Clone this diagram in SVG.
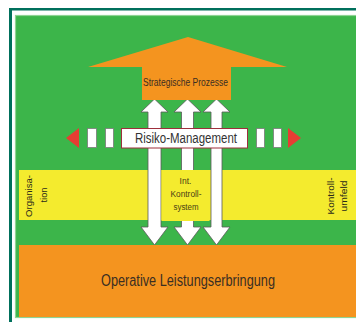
<svg xmlns="http://www.w3.org/2000/svg" width="356" height="322" viewBox="0 0 356 322">
<style>
.t{font-family:"Liberation Sans Narrow","Liberation Sans",Arial,sans-serif;fill:#3a2e22}
.wa{fill:#ffffff;stroke:#5a5a5a;stroke-width:0.8}
.sq{fill:#ffffff;stroke:#7a7a7a;stroke-width:0.8}
.red{fill:#e63d33}
</style>
<rect width="356" height="322" fill="#ffffff"/>
<g id="frame">
<rect x="9" y="8" width="347" height="2.5" fill="#00705c"/>
<rect x="9" y="8" width="3" height="314" fill="#00705c"/>
<rect x="15.5" y="15.5" width="345" height="302" fill="#3cb54a" stroke="#8fd394" stroke-width="1.2"/>
</g>
<g id="yellow-band">
<rect x="19" y="170" width="337" height="50" fill="#f4eb2e"/>
</g>
<g id="connectors">
<polygon class="wa" points="154.5,99 168,112 161,112 161,227 168,227 154.5,245 141,227 148,227 148,112 141,112"/>
<polygon class="wa" points="187.5,99 201,112 193.5,112 193.5,227 201,227 187.5,245 174,227 181.5,227 181.5,112 174,112"/>
<polygon class="wa" points="216.5,99 230,112 222,112 222,227 230,227 216.5,245 203,227 211,227 211,112 203,112"/>
</g>
<g id="int-kontrollsystem">
<rect x="161.5" y="170" width="48" height="51" fill="#f4eb2e"/>
<text class="t" x="185.5" y="184" font-size="8.5" text-anchor="middle" style="fill:#4a4015">Int.</text>
<text class="t" x="186" y="197" font-size="8.5" text-anchor="middle" textLength="31" lengthAdjust="spacingAndGlyphs" style="fill:#4a4015">Kontroll-</text>
<text class="t" x="186" y="210" font-size="8.5" text-anchor="middle" textLength="25" lengthAdjust="spacingAndGlyphs" style="fill:#4a4015">system</text>
</g>
<g id="strategische-prozesse">
<polygon points="188,37 287,67 231,67 231,100 142,100 142,67 88,67" fill="#f4941f"/>
<text class="t" x="185.5" y="86" font-size="11" text-anchor="middle" textLength="85" lengthAdjust="spacingAndGlyphs">Strategische Prozesse</text>
</g>
<g id="operative-leistungserbringung">
<rect x="19" y="245" width="337" height="72" fill="#f4941f"/>
<text class="t" x="188" y="286" font-size="16" text-anchor="middle" textLength="174" lengthAdjust="spacingAndGlyphs">Operative Leistungserbringung</text>
</g>
<g id="risiko-management">
<polygon class="red" points="66,138 79,128 79,148"/>
<polygon class="red" points="301,138 288,128 288,148"/>
<rect class="sq" x="87.5" y="128.5" width="9" height="19"/>
<rect class="sq" x="105.5" y="128.5" width="8" height="19"/>
<rect class="sq" x="256.5" y="128.5" width="8" height="19"/>
<rect class="sq" x="273.5" y="128.5" width="8" height="19"/>
<rect x="121.5" y="128.5" width="126" height="19.5" fill="#ffffff" stroke="#9e2f3c" stroke-width="1"/>
<text class="t" x="186" y="143" font-size="14" text-anchor="middle" textLength="102" lengthAdjust="spacingAndGlyphs" style="fill:#333333">Risiko-Management</text>
</g>
<g id="organisation">
<text class="t" transform="translate(32,196) rotate(-90)" font-size="9" text-anchor="middle" textLength="42" lengthAdjust="spacingAndGlyphs" style="fill:#2a2a1a">Organisa-</text>
<text class="t" transform="translate(47,195) rotate(-90)" font-size="9" text-anchor="middle" textLength="15" lengthAdjust="spacingAndGlyphs" style="fill:#2a2a1a">tion</text>
</g>
<g id="kontrollumfeld">
<text class="t" transform="translate(334,196) rotate(-90)" font-size="9" text-anchor="middle" textLength="37" lengthAdjust="spacingAndGlyphs" style="fill:#2a2a1a">Kontroll-</text>
<text class="t" transform="translate(347,196) rotate(-90)" font-size="9" text-anchor="middle" textLength="31" lengthAdjust="spacingAndGlyphs" style="fill:#2a2a1a">umfeld</text>
</g>
</svg>
